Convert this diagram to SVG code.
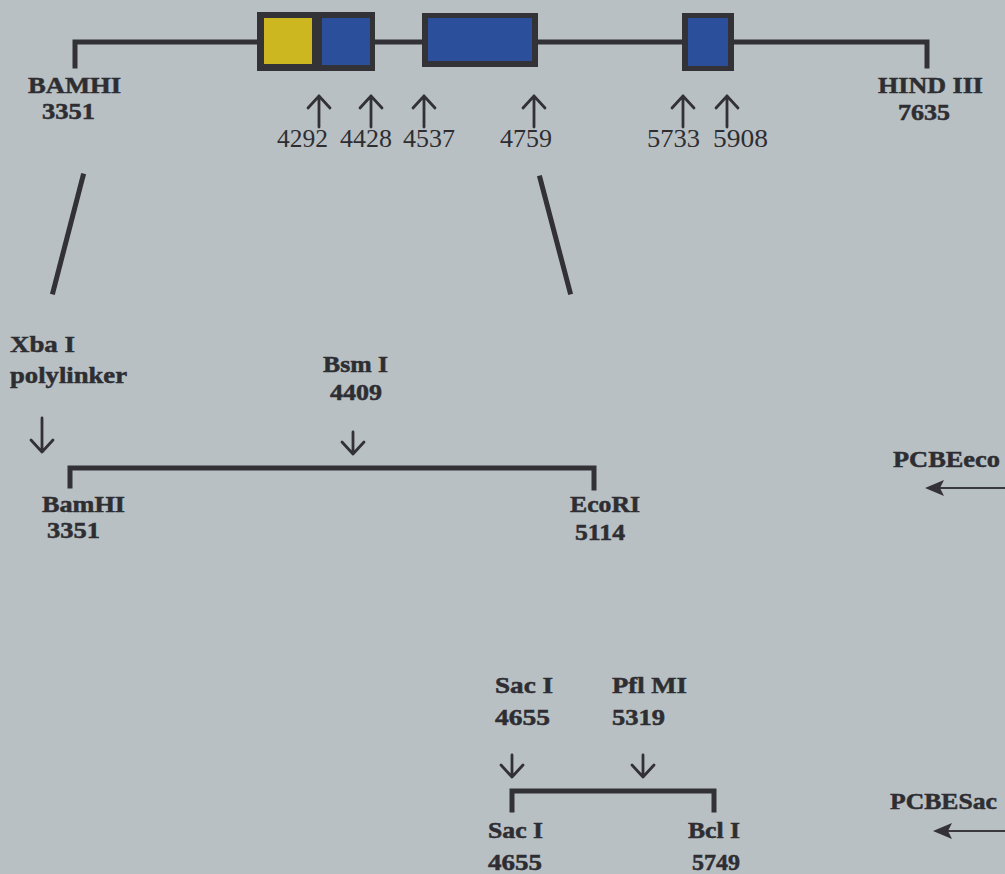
<svg xmlns="http://www.w3.org/2000/svg" width="1005" height="874" viewBox="0 0 1005 874">
<defs>
<style>
.ln{stroke:#323236;stroke-width:5;fill:none;stroke-linecap:square}
.ar{stroke:#323236;stroke-width:2.8;fill:none;stroke-linecap:round;stroke-linejoin:round}
.thin{stroke:#3a3a3e;stroke-width:2;fill:none}
.b{font-family:"Liberation Serif","Times New Roman",serif;font-weight:bold;font-size:23px;fill:#2e2e32;stroke:#2e2e32;stroke-width:0.5}
.r{font-family:"Liberation Serif","Times New Roman",serif;font-size:26px;fill:#2e2e32}
.dark{fill:#333236}
.blue{fill:#2c4f9b}
.yel{fill:#cdb720}
.head{fill:#333236}
</style>
</defs>
<rect width="1005" height="874" fill="#b9c0c4"/>

<g id="connectors">
<path class="ln" d="M75,66 V42 H927 V66"/>
<line class="ln" x1="83" y1="176" x2="53" y2="292" stroke-width="4"/>
<line class="ln" x1="540" y1="178" x2="570" y2="292" stroke-width="4"/>
<path class="ln" d="M70,486 V468 H594 V488"/>
<path class="ln" d="M512,810 V791 H714 V810"/>
<path class="ar" d="M319,127 V96 M308,108 L319,96 L330,108"/>
<path class="ar" d="M371,127 V96 M360,108 L371,96 L382,108"/>
<path class="ar" d="M424,127 V96 M413,108 L424,96 L435,108"/>
<path class="ar" d="M534,127 V96 M523,108 L534,96 L545,108"/>
<path class="ar" d="M683,127 V96 M672,108 L683,96 L694,108"/>
<path class="ar" d="M727,127 V96 M716,108 L727,96 L738,108"/>
<path class="ar" d="M42,418 V452 M31,440 L42,452 L53,440"/>
<path class="ar" d="M353,432 V454 M342,442 L353,454 L364,442"/>
<path class="ar" d="M512,755 V777 M501,765 L512,777 L523,765"/>
<path class="ar" d="M643,755 V777 M632,765 L643,777 L654,765"/>
<line class="thin" x1="1005" y1="488" x2="938" y2="488"/>
<path class="head" d="M925,488 L944,480 L940,488 L944,496 Z"/>
<line class="thin" x1="1005" y1="831" x2="946" y2="831"/>
<path class="head" d="M933,831 L952,823 L948,831 L952,839 Z"/>
</g>

<g id="exon1">
<rect class="dark" x="257" y="12" width="118" height="59"/>
<rect class="yel" x="264" y="18" width="48" height="46"/>
<rect class="blue" x="322" y="18" width="48" height="47"/>
</g>
<g id="exon2">
<rect class="dark" x="422" y="13" width="116" height="54"/>
<rect class="blue" x="428" y="18" width="104" height="43"/>
</g>
<g id="exon3">
<rect class="dark" x="682" y="13" width="52" height="58"/>
<rect class="blue" x="688" y="18" width="40" height="48"/>
</g>

<g id="labels-top">
<text class="b" x="28" y="93" textLength="93" lengthAdjust="spacingAndGlyphs">BAMHI</text>
<text class="b" x="42" y="119" textLength="53" lengthAdjust="spacingAndGlyphs">3351</text>
<text class="b" x="878" y="93" textLength="105" lengthAdjust="spacingAndGlyphs">HIND III</text>
<text class="b" x="898" y="120" textLength="52" lengthAdjust="spacingAndGlyphs">7635</text>
<text class="r" x="277" y="147" textLength="51" lengthAdjust="spacingAndGlyphs">4292</text>
<text class="r" x="340" y="147" textLength="52" lengthAdjust="spacingAndGlyphs">4428</text>
<text class="r" x="403" y="147" textLength="52" lengthAdjust="spacingAndGlyphs">4537</text>
<text class="r" x="500" y="147" textLength="52" lengthAdjust="spacingAndGlyphs">4759</text>
<text class="r" x="647" y="147" textLength="53" lengthAdjust="spacingAndGlyphs">5733</text>
<text class="r" x="713" y="147" textLength="55" lengthAdjust="spacingAndGlyphs">5908</text>
</g>

<g id="PCBEeco">
<text class="b" x="10" y="352" textLength="65" lengthAdjust="spacingAndGlyphs">Xba I</text>
<text class="b" x="10" y="383" textLength="117" lengthAdjust="spacingAndGlyphs">polylinker</text>
<text class="b" x="323" y="372" textLength="65" lengthAdjust="spacingAndGlyphs">Bsm I</text>
<text class="b" x="330" y="400" textLength="52" lengthAdjust="spacingAndGlyphs">4409</text>
<text class="b" x="42" y="512" textLength="83" lengthAdjust="spacingAndGlyphs">BamHI</text>
<text class="b" x="47" y="538" textLength="53" lengthAdjust="spacingAndGlyphs">3351</text>
<text class="b" x="570" y="512" textLength="70" lengthAdjust="spacingAndGlyphs">EcoRI</text>
<text class="b" x="575" y="540" textLength="50" lengthAdjust="spacingAndGlyphs">5114</text>
<text class="b" x="893" y="467" textLength="107" lengthAdjust="spacingAndGlyphs">PCBEeco</text>
</g>

<g id="PCBESac">
<text class="b" x="495" y="693" textLength="58" lengthAdjust="spacingAndGlyphs">Sac I</text>
<text class="b" x="495" y="725" textLength="55" lengthAdjust="spacingAndGlyphs">4655</text>
<text class="b" x="612" y="693" textLength="75" lengthAdjust="spacingAndGlyphs">Pfl MI</text>
<text class="b" x="612" y="725" textLength="53" lengthAdjust="spacingAndGlyphs">5319</text>
<text class="b" x="488" y="838" textLength="55" lengthAdjust="spacingAndGlyphs">Sac I</text>
<text class="b" x="488" y="870" textLength="54" lengthAdjust="spacingAndGlyphs">4655</text>
<text class="b" x="688" y="838" textLength="52" lengthAdjust="spacingAndGlyphs">Bcl I</text>
<text class="b" x="692" y="870" textLength="48" lengthAdjust="spacingAndGlyphs">5749</text>
<text class="b" x="890" y="809" textLength="107" lengthAdjust="spacingAndGlyphs">PCBESac</text>
</g>
</svg>
